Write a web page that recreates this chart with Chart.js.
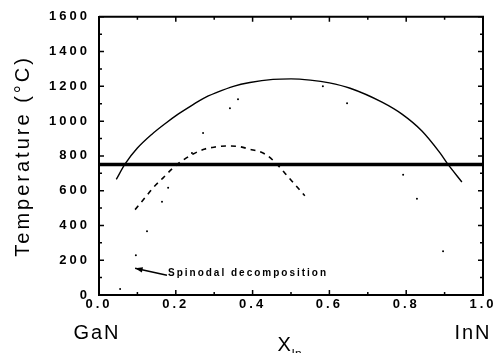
<!DOCTYPE html>
<html>
<head>
<meta charset="utf-8">
<script src="https://cdn.jsdelivr.net/npm/chart.js@4.4.1/dist/chart.umd.min.js"></script>
<style>
  html, body { margin: 0; padding: 0; background: #fff; }
</style>
</head>
<body>
<canvas id="phase-chart" width="499" height="353"></canvas>
<script>
// InN fraction (x) and temperature in °C
const binodalX = [0.045, 0.068, 0.10, 0.138, 0.172, 0.206, 0.245, 0.271, 0.307, 0.35, 0.393, 0.453, 0.5, 0.55, 0.6, 0.654, 0.737, 0.789, 0.841, 0.888, 0.906, 0.945];
const binodalT = [665, 754, 845, 925, 985, 1040, 1095, 1130, 1165, 1200, 1222, 1240, 1243, 1236, 1220, 1189, 1109, 1040, 943, 817, 760, 650];

const spinodalX = [0.094, 0.12, 0.141, 0.167, 0.193, 0.216, 0.245, 0.276, 0.302, 0.33, 0.36, 0.39, 0.432, 0.46, 0.49, 0.536];
const spinodalT = [491, 560, 617, 674, 731, 771, 811, 840, 851, 857, 855, 840, 811, 760, 686, 571];

const dotsX = [0.055, 0.096, 0.125, 0.164, 0.18, 0.242, 0.271, 0.341, 0.362, 0.583, 0.646, 0.792, 0.828, 0.896];
const dotsT = [34, 229, 366, 537, 617, 817, 931, 1074, 1126, 1200, 1103, 691, 554, 251];

const growthX = [0, 1];
const growthT = [750, 750];

const xTicks = [0, 0.2, 0.4, 0.6, 0.8, 1.0];
const yTicks = [0, 200, 400, 600, 800, 1000, 1200, 1400, 1600];

const toPoints = (xs, ys) => xs.map((x, i) => ({ x: x, y: ys[i] }));

// letter spacing like the scanned figure
const spacingPlugin = {
    id: 'spacing',
    beforeDraw(chart) {
        chart.ctx.letterSpacing = '3px';
    },
    afterDraw(chart) {
        chart.ctx.letterSpacing = '0px';
    }
};

const decorPlugin = {
    id: 'decor',
    afterDraw(chart) {
        const ctx = chart.ctx;
        const xs = chart.scales.x;
        const ys = chart.scales.y;
        const a = chart.chartArea;

        ctx.save();
        ctx.strokeStyle = '#000';

        // frame top/right
        ctx.lineWidth = 2;
        ctx.beginPath();
        ctx.moveTo(a.left, a.top);
        ctx.lineTo(a.right, a.top);
        ctx.lineTo(a.right, a.bottom);
        ctx.stroke();

        // inward ticks
        ctx.lineWidth = 1.5;
        ctx.beginPath();
        for (let v = 0; v <= 1600; v += 100) {
            const py = ys.getPixelForValue(v);
            const len = v % 200 === 0 ? 5 : 3;
            ctx.moveTo(a.left, py); ctx.lineTo(a.left + len, py);
            ctx.moveTo(a.right, py); ctx.lineTo(a.right - len, py);
        }
        for (let i = 0; i <= 10; i++) {
            const px = xs.getPixelForValue(i / 10);
            const len = i % 2 === 0 ? 5 : 3;
            ctx.moveTo(px, a.bottom); ctx.lineTo(px, a.bottom - len);
            ctx.moveTo(px, a.top); ctx.lineTo(px, a.top + len);
        }
        ctx.stroke();

        // arrow + annotation
        const tipX = xs.getPixelForValue(0.094), tipY = ys.getPixelForValue(154);
        const tailX = xs.getPixelForValue(0.177), tailY = ys.getPixelForValue(114);
        ctx.lineWidth = 1.5;
        ctx.beginPath();
        ctx.moveTo(tipX, tipY);
        ctx.lineTo(tailX, tailY);
        ctx.stroke();
        const ang = Math.atan2(tailY - tipY, tailX - tipX);
        ctx.fillStyle = '#000';
        ctx.beginPath();
        ctx.moveTo(tipX, tipY);
        ctx.lineTo(tipX + 8 * Math.cos(ang - 0.35), tipY + 8 * Math.sin(ang - 0.35));
        ctx.lineTo(tipX + 8 * Math.cos(ang + 0.35), tipY + 8 * Math.sin(ang + 0.35));
        ctx.closePath();
        ctx.fill();

        ctx.letterSpacing = '2px';
        ctx.font = 'bold 10px "Liberation Sans", Arial, sans-serif';
        ctx.textAlign = 'left';
        ctx.textBaseline = 'middle';
        ctx.fillText('Spinodal decomposition', tailX + 1, ys.getPixelForValue(126));

        // end members and axis label
        ctx.font = '20px "Liberation Sans", Arial, sans-serif';
        ctx.textAlign = 'center';
        ctx.letterSpacing = '2px';
        ctx.fillText('GaN', xs.getPixelForValue(0) - 2, 333);
        ctx.fillText('InN', xs.getPixelForValue(1) - 10, 333);
        ctx.textAlign = 'left';
        ctx.letterSpacing = '0px';
        ctx.fillText('X', xs.getPixelForValue(0.465), 345);
        ctx.font = '12px "Liberation Sans", Arial, sans-serif';
        ctx.fillText('In', xs.getPixelForValue(0.465) + 14, 355);
        ctx.restore();
    }
};

const ctx = document.getElementById('phase-chart').getContext('2d');
new Chart(ctx, {
    type: 'line',
    data: {
        datasets: [
            {
                label: 'binodal',
                data: toPoints(binodalX, binodalT),
                borderColor: '#000',
                borderWidth: 1.4,
                pointRadius: 0,
                cubicInterpolationMode: 'monotone'
            },
            {
                label: 'spinodal',
                data: toPoints(spinodalX, spinodalT),
                borderColor: '#000',
                borderWidth: 1.6,
                borderDash: [5, 5],
                pointRadius: 0,
                cubicInterpolationMode: 'monotone'
            },
            {
                label: 'dots',
                data: toPoints(dotsX, dotsT),
                showLine: false,
                pointRadius: 1,
                pointBorderWidth: 0,
                pointBackgroundColor: '#000'
            },
            {
                label: 'growth',
                data: toPoints(growthX, growthT),
                borderColor: '#000',
                borderWidth: 3.5,
                pointRadius: 0
            }
        ]
    },
    options: {
        responsive: false,
        animation: false,
        layout: { padding: { top: 15, right: 16, bottom: 0, left: 0 } },
        plugins: {
            legend: { display: false },
            tooltip: { enabled: false }
        },
        scales: {
            x: {
                type: 'linear',
                min: 0,
                max: 1,
                afterBuildTicks: s => { s.ticks = xTicks.map(v => ({ value: v })); },
                afterFit: s => { s.height = 58; },
                grid: { display: false, drawTicks: false },
                border: { display: true, color: '#000', width: 2 },
                ticks: {
                    color: '#000',
                    padding: 2,
                    maxRotation: 0,
                    font: { family: '"Liberation Sans", Arial, sans-serif', size: 13, weight: 'bold' },
                    callback: v => v.toFixed(1)
                }
            },
            y: {
                min: 0,
                max: 1600,
                afterBuildTicks: s => { s.ticks = yTicks.map(v => ({ value: v })); },
                afterFit: s => { s.width = 99; },
                grid: { display: false, drawTicks: false },
                border: { display: true, color: '#000', width: 2 },
                ticks: {
                    color: '#000',
                    padding: 9,
                    font: { family: '"Liberation Sans", Arial, sans-serif', size: 13, weight: 'bold' },
                    callback: v => String(v)
                },
                title: {
                    display: true,
                    text: 'Temperature (°C)',
                    color: '#000',
                    padding: { top: 11, bottom: 0 },
                    font: { family: '"Liberation Sans", Arial, sans-serif', size: 20 }
                }
            }
        }
    },
    plugins: [spacingPlugin, decorPlugin]
});
</script>
</body>
</html>
